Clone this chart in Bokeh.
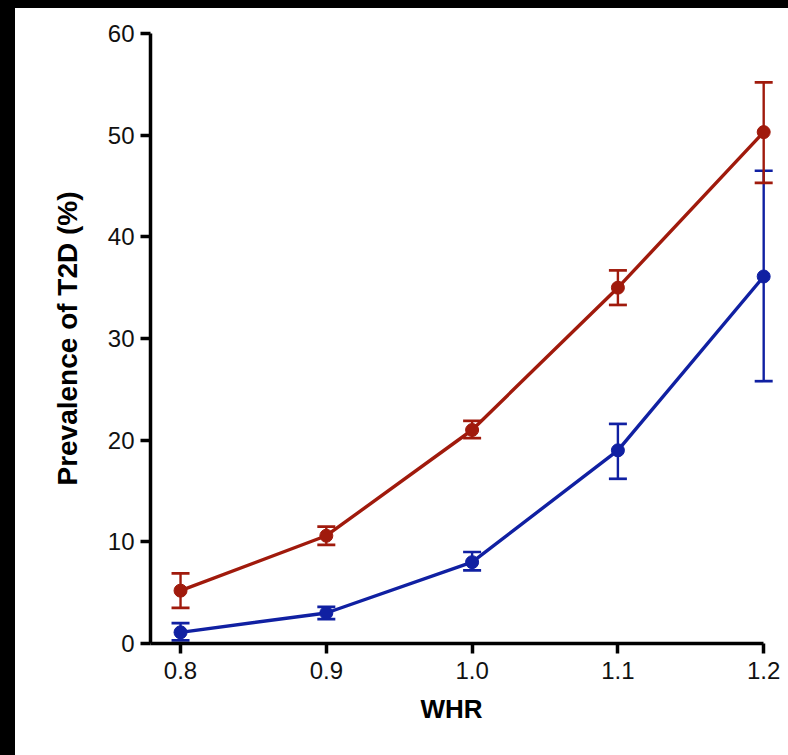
from bokeh.plotting import figure
from bokeh.models import ColumnDataSource, Whisker, TeeHead, Range1d, FixedTicker, Title
from bokeh.embed import file_html
from bokeh.resources import INLINE

whr = [0.8, 0.9, 1.0, 1.1, 1.2]
red_mean = [5.2, 10.6, 21.0, 35.0, 50.3]
red_lower = [3.5, 9.7, 20.2, 33.3, 45.3]
red_upper = [6.9, 11.5, 21.9, 36.7, 55.2]
blue_mean = [1.1, 3.0, 8.0, 19.0, 36.1]
blue_lower = [0.3, 2.4, 7.2, 16.2, 25.8]
blue_upper = [2.0, 3.6, 9.0, 21.6, 46.5]
x_ticks = [0.8, 0.9, 1.0, 1.1, 1.2]
y_ticks = [0, 10, 20, 30, 40, 50, 60]

RED = "#A01A0C"
BLUE = "#1020A2"

p = figure(width=773, height=747, output_backend="svg", toolbar_location=None,
           x_range=Range1d(0.7794, 1.2081), y_range=Range1d(0, 60),
           min_border_left=135, min_border_right=13, min_border_top=25, min_border_bottom=112)
p.outline_line_color = None
p.background_fill_color = "white"
p.border_fill_color = "white"
p.grid.visible = False

for mean, lo, hi, col in [(blue_mean, blue_lower, blue_upper, BLUE),
                          (red_mean, red_lower, red_upper, RED)]:
    src = ColumnDataSource(dict(x=whr, y=mean, lower=lo, upper=hi))
    w = Whisker(source=src, base="x", lower="lower", upper="upper", dimension="height",
                line_color=col, line_width=2.4,
                upper_head=TeeHead(size=18, line_color=col, line_width=2.7),
                lower_head=TeeHead(size=18, line_color=col, line_width=2.7))
    p.add_layout(w)
    p.line("x", "y", source=src, line_color=col, line_width=3.4)
    p.scatter("x", "y", source=src, size=13, fill_color=col, line_color=col)

for ax in (p.xaxis[0], p.yaxis[0]):
    ax.axis_line_width = 3.5
    ax.axis_line_color = "black"
    ax.major_tick_line_width = 3.5
    ax.major_tick_line_color = "black"
    ax.major_tick_out = 10
    ax.major_tick_in = 0
    ax.minor_tick_line_color = None
    ax.major_label_text_font = "Liberation Sans"
    ax.major_label_text_font_size = "24px"
    ax.major_label_text_color = "#111111"
    ax.axis_label_text_font = "Liberation Sans"
    ax.axis_label_text_font_style = "bold"
    ax.axis_label_text_color = "black"

p.xaxis[0].ticker = FixedTicker(ticks=x_ticks)
p.xaxis[0].major_label_overrides = {0.8: "0.8", 0.9: "0.9", 1.0: "1.0", 1.1: "1.1", 1.2: "1.2"}
p.xaxis[0].bounds = (0.7794, 1.2)
p.xaxis[0].major_label_standoff = 8

p.add_layout(Title(text="WHR", align="left", offset=270, standoff=20,
                   text_font="Liberation Sans", text_font_style="bold",
                   text_font_size="26px", text_color="black"), "below")

p.yaxis[0].ticker = FixedTicker(ticks=y_ticks)
p.yaxis[0].bounds = (0, 60)
p.yaxis[0].axis_label = "Prevalence of T2D (%)"
p.yaxis[0].axis_label_text_font_size = "28px"
p.yaxis[0].major_label_standoff = 6
p.yaxis[0].axis_label_standoff = 22

template = """{% block preamble %}<style>html{background:#000 !important;}body{background:#fff !important;margin:8px 0 0 15px !important;}</style>{% endblock %}"""
open("out.html", "w").write(file_html(p, INLINE, template=template))
